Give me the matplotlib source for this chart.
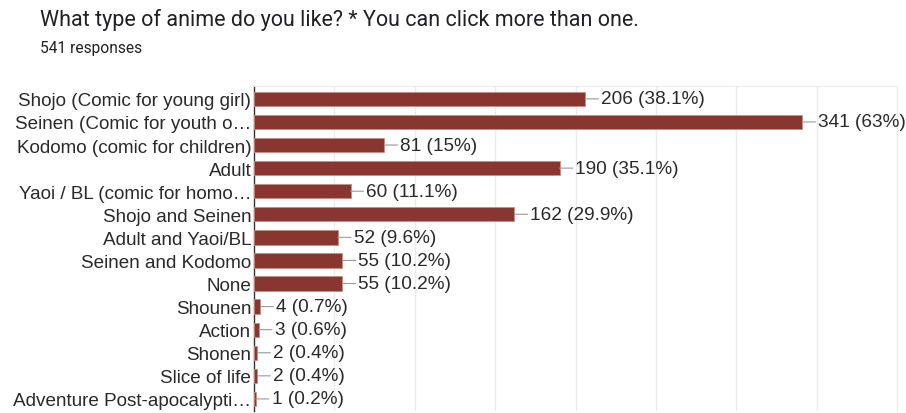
import matplotlib
matplotlib.use("Agg")
import matplotlib.pyplot as plt

# Survey answers and counts
categories = [
    "Shojo (Comic for young girl)",
    "Seinen (Comic for youth o\u2026",
    "Kodomo (comic for children)",
    "Adult",
    "Yaoi / BL (comic for homo\u2026",
    "Shojo and Seinen",
    "Adult and Yaoi/BL",
    "Seinen and Kodomo",
    "None",
    "Shounen",
    "Action",
    "Shonen",
    "Slice of life",
    "Adventure Post-apocalypti\u2026",
]
counts = [206, 341, 81, 190, 60, 162, 52, 55, 55, 4, 3, 2, 2, 1]
total = 541
grid_ticks = [50, 100, 150, 200, 250, 300, 350, 400]

bar_color = "#8a3630"

fig = plt.figure(figsize=(9.06, 4.14), dpi=100)
ax = fig.add_axes([0.2804, 0.005, 0.7098, 0.785])

y = list(range(len(categories)))
ax.barh(y, counts, height=0.62, color=bar_color, edgecolor="#c98c86",
        linewidth=0.6, zorder=3)

for i, v in enumerate(counts):
    pct = round(v / total * 100, 1)
    ax.annotate(f"{v} ({pct:g}%)", xy=(v, i), xytext=(11.5, 0),
                textcoords="offset points", ha="left", va="center",
                fontsize=13.7, color="#2a2a2a", family="Liberation Sans",
                arrowprops=dict(arrowstyle="-", color="#9a9a9a", lw=0.8,
                                relpos=(0, 0.5), shrinkA=0, shrinkB=0),
                zorder=4, annotation_clip=False)

ax.set_xlim(0, 400)
ax.set_ylim(len(categories) - 0.48, -0.56)
ax.set_xticks(grid_ticks)
ax.set_xticklabels([])
ax.tick_params(axis="x", length=0)
ax.grid(axis="x", color="#ebebeb", linewidth=1, zorder=0)

ax.set_yticks(y)
ax.set_yticklabels(categories, fontsize=13.6, color="#2a2a2a",
                   family="Liberation Sans")
ax.tick_params(axis="y", length=0, pad=2)

for side in ["top", "right"]:
    ax.spines[side].set_color("#ebebeb")
ax.spines["bottom"].set_visible(False)
ax.spines["left"].set_color("#333333")
ax.spines["left"].set_linewidth(1)

fig.text(40 / 906, 1 - 20 / 414,
         "What type of anime do you like? * You can click more than one.",
         fontsize=15.5, color="#202124", family="Roboto", va="center")
fig.text(40 / 906, 1 - 48 / 414, "541 responses", fontsize=11.2,
         color="#202124", family="Roboto", va="center")

fig.savefig("out.png", dpi=100, facecolor="white")
